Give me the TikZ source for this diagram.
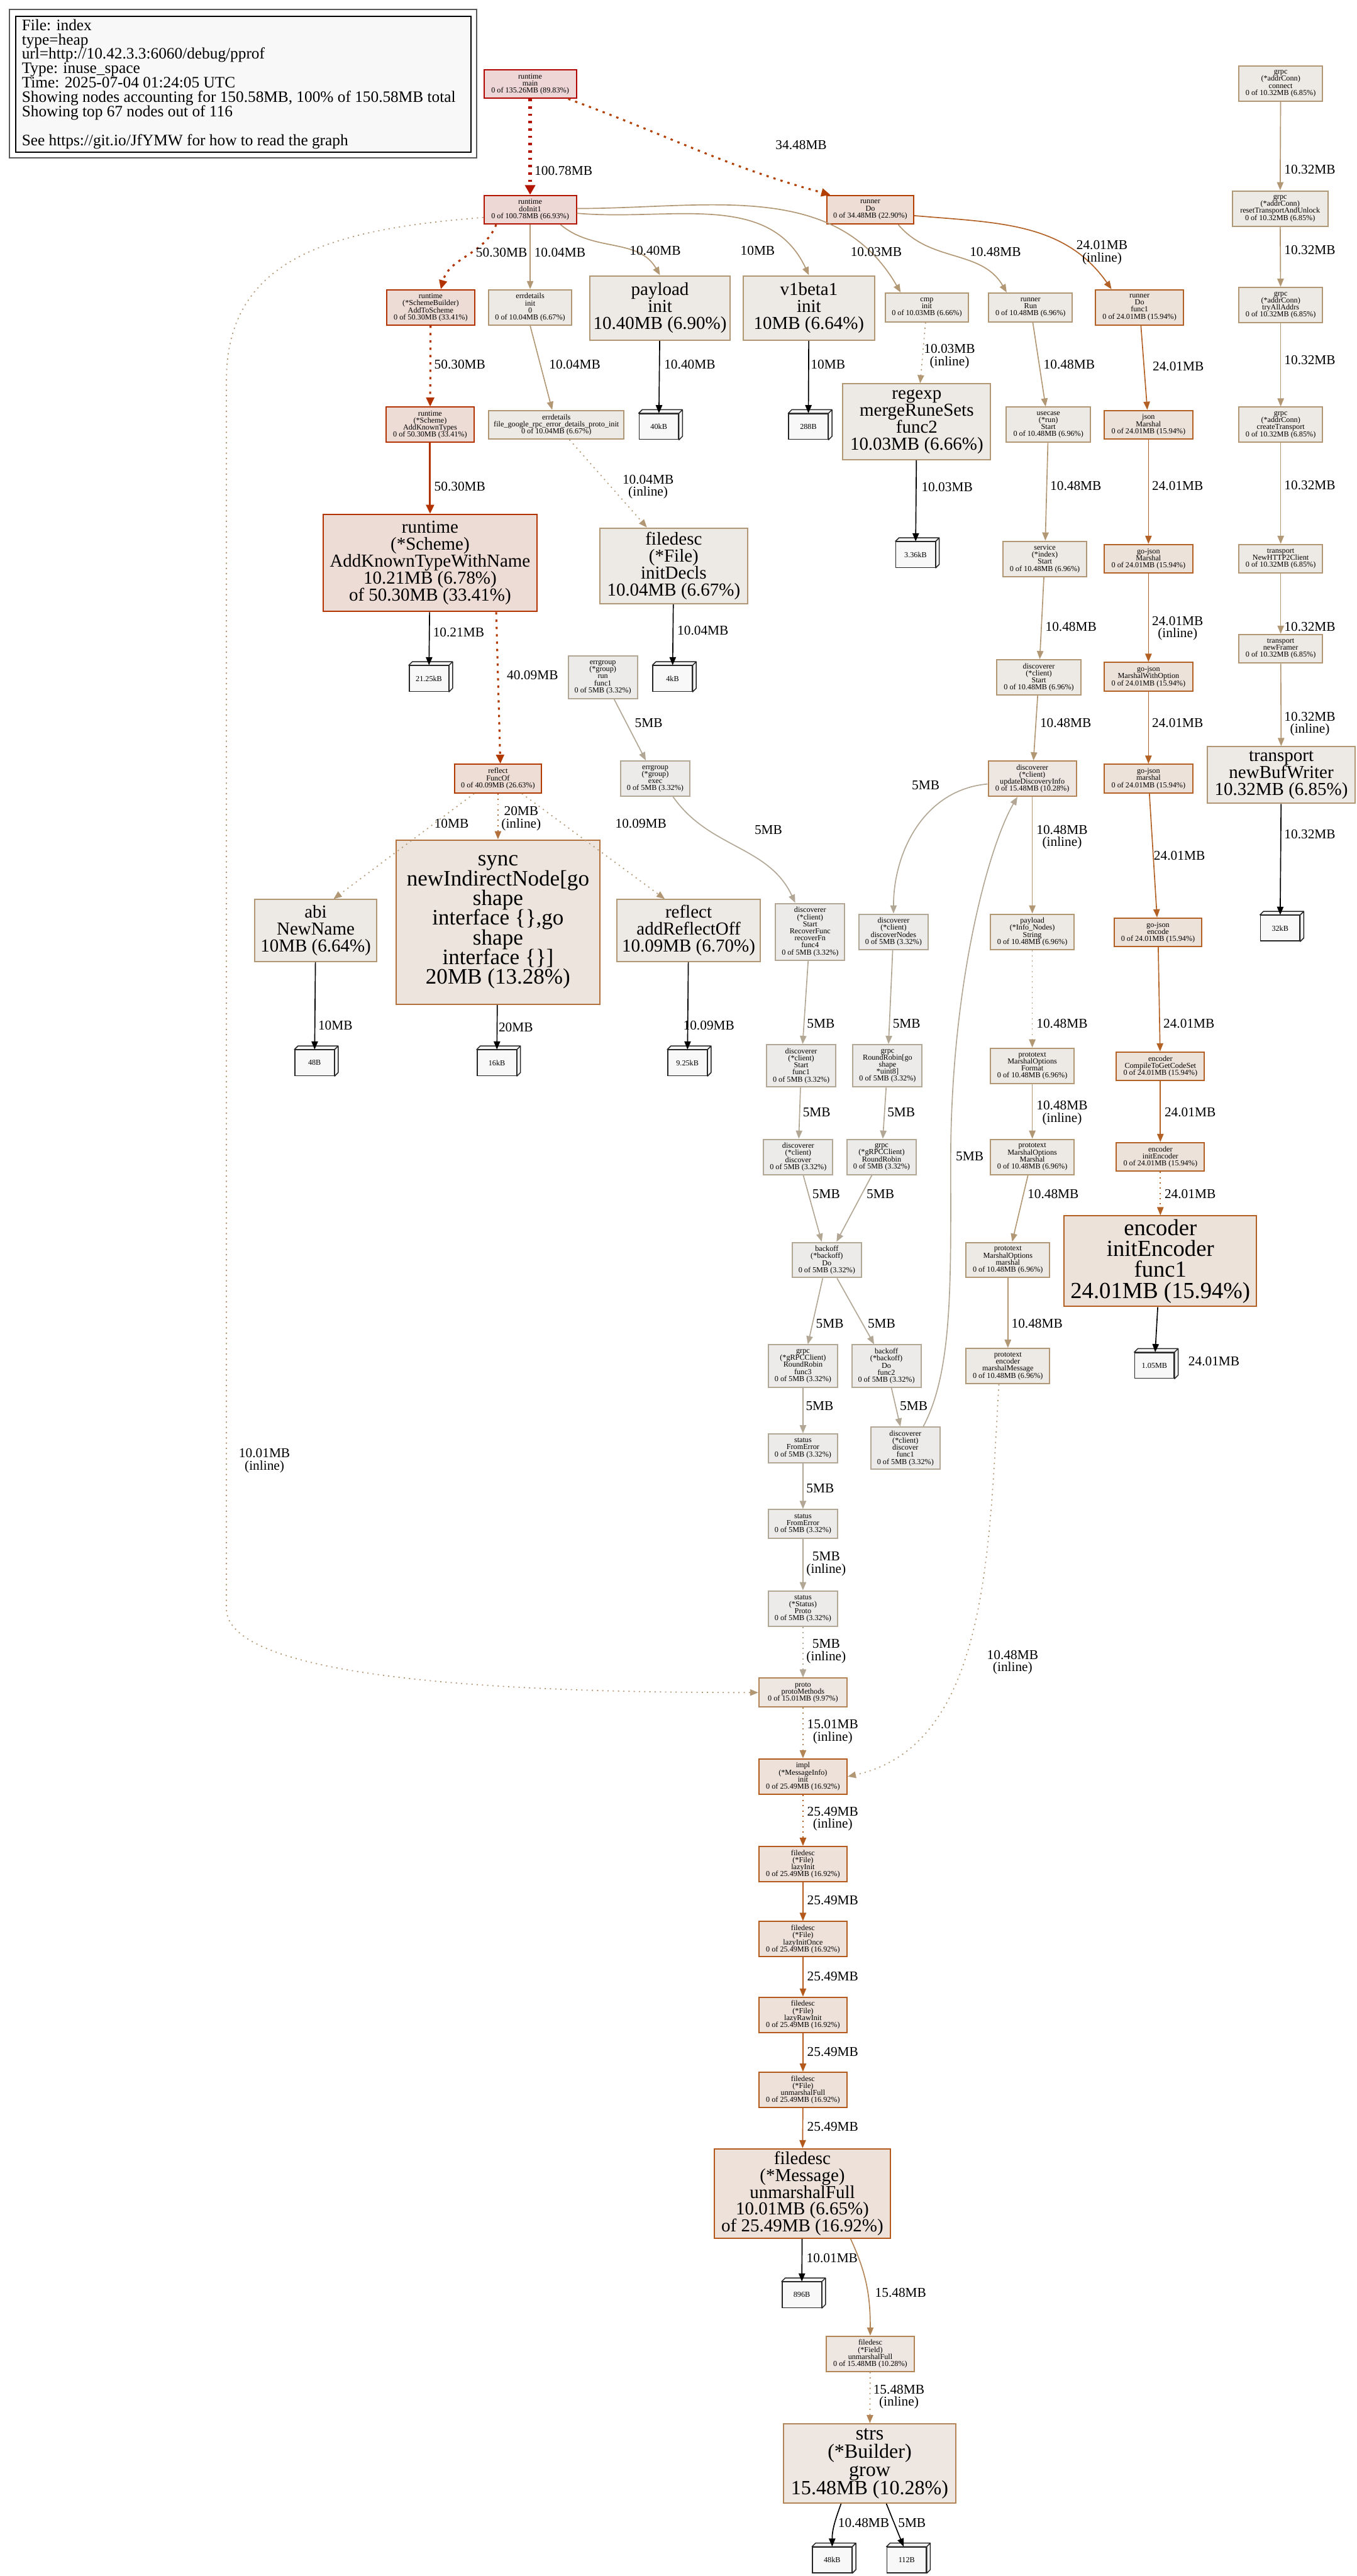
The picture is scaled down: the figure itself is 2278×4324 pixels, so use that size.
\documentclass[tikz,border=0pt]{standalone}
\usepackage{fontspec}
\setmainfont{Liberation Serif}
\usepackage{tikz}
\usetikzlibrary{arrows.meta}
\definecolor{f90}{HTML}{EDD6D5}\definecolor{d90}{HTML}{B20500}
\definecolor{f67}{HTML}{EDD8D5}\definecolor{d67}{HTML}{B21400}
\definecolor{f33}{HTML}{EDDCD5}\definecolor{d33}{HTML}{B23200}
\definecolor{f27}{HTML}{EDDDD5}\definecolor{d27}{HTML}{B23A00}
\definecolor{f23}{HTML}{EDDDD5}\definecolor{d23}{HTML}{B23F00}
\definecolor{f17}{HTML}{EDE1D9}\definecolor{d17}{HTML}{B2591B}
\definecolor{f16}{HTML}{EDE2DA}\definecolor{d16}{HTML}{B26024}
\definecolor{f13}{HTML}{EDE5DD}\definecolor{d13}{HTML}{B2713C}
\definecolor{f10}{HTML}{EDE6E1}\definecolor{d10}{HTML}{B28456}
\definecolor{f7}{HTML}{EDE9E5}\definecolor{d7}{HTML}{B29775}
\definecolor{f3}{HTML}{EDEBE9}\definecolor{d3}{HTML}{B2A794}
\definecolor{leafbg}{HTML}{F8F8F8}
\newcommand\tightlines{\lineskiplimit=-\maxdimen\lineskip=0pt}
\newcommand\smallfn{\fontsize{3.66pt}{3.36pt}\selectfont\tightlines}
\newcommand\labfn{\fontsize{6.41pt}{5.85pt}\selectfont\tightlines}
\newcommand\legfn{\fontsize{7.6pt}{6.86pt}\selectfont\tightlines}
\newcommand\bigfn{\fontsize{8.7pt}{8.1pt}\selectfont\tightlines}
\newcommand\strsfn{\fontsize{9.62pt}{8.7pt}\selectfont\tightlines}
\newcommand\syncfn{\fontsize{10.53pt}{9.4pt}\selectfont\tightlines}
\newcommand\encfn{\fontsize{10.99pt}{10pt}\selectfont\tightlines}
\tikzset{
  fn/.style={draw, rectangle, inner sep=0pt, align=center, line width=0.6pt, font=\smallfn},
  wh/.style 2 args={minimum width=#1cm, minimum height=#2cm},
  big/.style={font=\bigfn},
  n90/.style={fn, fill=f90, draw=d90}, n67/.style={fn, fill=f67, draw=d67},
  n33/.style={fn, fill=f33, draw=d33}, n27/.style={fn, fill=f27, draw=d27},
  n23/.style={fn, fill=f23, draw=d23}, n17/.style={fn, fill=f17, draw=d17},
  n16/.style={fn, fill=f16, draw=d16}, n13/.style={fn, fill=f13, draw=d13},
  n10/.style={fn, fill=f10, draw=d10}, n7/.style={fn, fill=f7, draw=d7},
  n3/.style={fn, fill=f3, draw=d3},
  leaf/.style={draw=black!85, fill=leafbg, line width=0.45pt, inner sep=0pt, minimum width=0.66cm, minimum height=0.43cm, font=\smallfn},
  leafside/.style={draw=black!85, fill=leafbg, line width=0.45pt, line join=round},
  elab/.style={font=\labfn, align=center, inner sep=0pt, text=black},
  ar/.style={-{Triangle[length=3.9pt,width=3.1pt]}, line width=0.5pt},
  arb/.style={-{Triangle[length=4.3pt,width=3.8pt]}, line width=0.92pt},
  arh/.style={-{Triangle[length=4.6pt,width=4.8pt]}, line width=1.8pt},
  resid/.style={dash pattern=on 0.6pt off 1.9pt},
  residb/.style={dash pattern=on 1.1pt off 2.4pt},
  e5/.style={ar, draw=d3}, e10/.style={ar, draw=d7}, e15/.style={ar, draw=d10},
  e20/.style={ar, draw=d13}, e24/.style={ar, draw=d16}, e25/.style={ar, draw=d17},
  e34/.style={arb, draw=d23}, e40/.style={arb, draw=d27}, e50/.style={arb, draw=d33},
  e101/.style={arh, draw=d67},
  toleaf/.style={ar, draw=black}
}
\begin{document}
\begin{tikzpicture}[x=0.01cm, y=-0.01cm]
\useasboundingbox (0,0) rectangle (2278,4324);
% legend
\node[draw=black!65, line width=0.8pt, wh={7.84}{2.49}] (legout) at (408,140.5) {};
\node[draw=black, fill=leafbg, line width=0.6pt, wh={7.63}{2.28}] (legend) at (408.5,141) {};
\node[font=\legfn, align=left, anchor=west, inner sep=0pt] (legtext) at (36,141) {File: index\\type=heap\\url=http://10.42.3.3:6060/debug/pprof\\Type: inuse\_space\\Time: 2025-07-04 01:24:05 UTC\\Showing nodes accounting for 150.58MB, 100\% of 150.58MB total\\Showing top 67 nodes out of 116\\[6.86pt]See https://git.io/JfYMW for how to read the graph};

% top rows
\node[n90, wh={1.55}{0.48}] (main) at (890,141) {runtime\\main\\0 of 135.26MB (89.83\%)};
\node[n67, wh={1.55}{0.48}] (doinit) at (890,352) {runtime\\doInit1\\0 of 100.78MB (66.93\%)};
\node[n23, wh={1.46}{0.48}] (rundo) at (1461,352) {runner\\Do\\0 of 34.48MB (22.90\%)};
\node[n33, wh={1.48}{0.59}] (addtoscheme) at (723,516) {runtime\\(*SchemeBuilder)\\AddToScheme\\0 of 50.30MB (33.41\%)};
\node[n7, wh={1.39}{0.59}] (errinit) at (890,516) {errdetails\\init\\0\\0 of 10.04MB (6.67\%)};
\node[n7, big, wh={2.36}{1.08}] (payload) at (1108,517) {payload\\init\\10.40MB (6.90\%)};
\node[n7, big, wh={2.21}{1.08}] (v1beta) at (1358,517) {v1beta1\\init\\10MB (6.64\%)};
\node[n7, wh={1.40}{0.48}] (cmp) at (1556,516) {cmp\\init\\0 of 10.03MB (6.66\%)};
\node[n7, wh={1.40}{0.48}] (run) at (1730,516) {runner\\Run\\0 of 10.48MB (6.96\%)};
\node[n16, wh={1.47}{0.59}] (dofunc) at (1913,516) {runner\\Do\\func1\\0 of 24.01MB (15.94\%)};
\node[n33, wh={1.47}{0.59}] (addknown) at (722,713) {runtime\\(*Scheme)\\AddKnownTypes\\0 of 50.30MB (33.41\%)};
\node[n7, wh={2.27}{0.48}] (errfile) at (934,713) {errdetails\\file\_google\_rpc\_error\_details\_proto\_init\\0 of 10.04MB (6.67\%)};
\node[n7, big, wh={2.48}{1.27}] (regexp) at (1539,708) {regexp\\mergeRuneSets\\func2\\10.03MB (6.66\%)};
\node[n7, wh={1.41}{0.59}] (usecase) at (1760,713) {usecase\\(*run)\\Start\\0 of 10.48MB (6.96\%)};
\node[n16, wh={1.48}{0.48}] (jsonm) at (1928,713) {json\\Marshal\\0 of 24.01MB (15.94\%)};
\node[n33, big, wh={3.59}{1.63}] (withname) at (722,945) {runtime\\(*Scheme)\\AddKnownTypeWithName\\10.21MB (6.78\%)\\of 50.30MB (33.41\%)};
\node[n7, big, wh={2.48}{1.27}] (initdecls) at (1131,950) {filedesc\\(*File)\\initDecls\\10.04MB (6.67\%)};
\node[n7, wh={1.41}{0.59}] (service) at (1754,938) {service\\(*index)\\Start\\0 of 10.48MB (6.96\%)};
\node[n16, wh={1.48}{0.48}] (gojson) at (1928,938) {go-json\\Marshal\\0 of 24.01MB (15.94\%)};

% grpc column
\node[n7, wh={1.41}{0.59}] (connect) at (2150,140) {grpc\\(*addrConn)\\connect\\0 of 10.32MB (6.85\%)};
\node[n7, wh={1.60}{0.59}] (reset) at (2149,350) {grpc\\(*addrConn)\\resetTransportAndUnlock\\0 of 10.32MB (6.85\%)};
\node[n7, wh={1.41}{0.59}] (tryall) at (2150,512) {grpc\\(*addrConn)\\tryAllAddrs\\0 of 10.32MB (6.85\%)};
\node[n7, wh={1.41}{0.59}] (createtr) at (2150,713) {grpc\\(*addrConn)\\createTransport\\0 of 10.32MB (6.85\%)};
\node[n7, wh={1.41}{0.48}] (http2) at (2150,938) {transport\\NewHTTP2Client\\0 of 10.32MB (6.85\%)};
\node[n7, wh={1.41}{0.48}] (framer) at (2150,1089) {transport\\newFramer\\0 of 10.32MB (6.85\%)};
\node[n7, big, wh={2.48}{0.95}] (bufwriter) at (2151,1301) {transport\\newBufWriter\\10.32MB (6.85\%)};

% middle rows
\node[n3, wh={1.16}{0.71}] (errrun) at (1012,1137) {errgroup\\(*group)\\run\\func1\\0 of 5MB (3.32\%)};
\node[n7, wh={1.41}{0.59}] (dstart) at (1744,1137) {discoverer\\(*client)\\Start\\0 of 10.48MB (6.96\%)};
\node[n16, wh={1.48}{0.48}] (withopt) at (1928,1136) {go-json\\MarshalWithOption\\0 of 24.01MB (15.94\%)};
\node[n27, wh={1.46}{0.48}] (funcof) at (836,1307) {reflect\\FuncOf\\0 of 40.09MB (26.63\%)};
\node[n3, wh={1.16}{0.59}] (exec) at (1100,1307) {errgroup\\(*group)\\exec\\0 of 5MB (3.32\%)};
\node[n10, wh={1.48}{0.59}] (update) at (1733,1307) {discoverer\\(*client)\\updateDiscoveryInfo\\0 of 15.48MB (10.28\%)};
\node[n16, wh={1.48}{0.48}] (gomarshal) at (1928,1307) {go-json\\marshal\\0 of 24.01MB (15.94\%)};
\node[n7, big, wh={2.05}{1.04}] (abi) at (530,1562) {abi\\NewName\\10MB (6.64\%)};
\node[n13, font=\syncfn, wh={3.42}{2.76}] (sync) at (836,1548) {sync\\newIndirectNode[go\\shape\\interface \{\},go\\shape\\interface \{\}]\\20MB (13.28\%)};
\node[n7, big, wh={2.40}{1.04}] (addrefl) at (1156,1562) {reflect\\addReflectOff\\10.09MB (6.70\%)};
\node[n3, wh={1.16}{0.95}] (recover) at (1360,1564) {discoverer\\(*client)\\Start\\RecoverFunc\\recoverFn\\func4\\0 of 5MB (3.32\%)};
\node[n3, wh={1.16}{0.59}] (dnodes) at (1500,1564) {discoverer\\(*client)\\discoverNodes\\0 of 5MB (3.32\%)};
\node[n7, wh={1.40}{0.59}] (pstring) at (1733,1564) {payload\\(*Info\_Nodes)\\String\\0 of 10.48MB (6.96\%)};
\node[n16, wh={1.47}{0.48}] (encode) at (1944,1565) {go-json\\encode\\0 of 24.01MB (15.94\%)};
\node[n3, wh={1.16}{0.71}] (sfunc1) at (1345,1789) {discoverer\\(*client)\\Start\\func1\\0 of 5MB (3.32\%)};
\node[n3, wh={1.16}{0.71}] (rrgo) at (1490,1789) {grpc\\RoundRobin[go\\shape\\{}*uint8]\\0 of 5MB (3.32\%)};
\node[n7, wh={1.40}{0.59}] (format) at (1733,1789) {prototext\\MarshalOptions\\Format\\0 of 10.48MB (6.96\%)};
\node[n16, wh={1.48}{0.48}] (compile) at (1948,1790) {encoder\\CompileToGetCodeSet\\0 of 24.01MB (15.94\%)};
\node[n3, wh={1.16}{0.59}] (discover) at (1340,1942) {discoverer\\(*client)\\discover\\0 of 5MB (3.32\%)};
\node[n3, wh={1.16}{0.59}] (rrclient) at (1480,1942) {grpc\\(*gRPCClient)\\RoundRobin\\0 of 5MB (3.32\%)};
\node[n7, wh={1.40}{0.59}] (pmarshal) at (1733,1942) {prototext\\MarshalOptions\\Marshal\\0 of 10.48MB (6.96\%)};
\node[n16, wh={1.48}{0.48}] (initenc) at (1948,1942) {encoder\\initEncoder\\0 of 24.01MB (15.94\%)};
\node[n16, font=\encfn, wh={3.23}{1.52}] (encfunc) at (1948,2117) {encoder\\initEncoder\\func1\\24.01MB (15.94\%)};
\node[n3, wh={1.16}{0.59}] (backoff) at (1388,2115) {backoff\\(*backoff)\\Do\\0 of 5MB (3.32\%)};
\node[n7, wh={1.40}{0.59}] (pmarsh2) at (1692,2115) {prototext\\MarshalOptions\\marshal\\0 of 10.48MB (6.96\%)};
\node[n3, wh={1.16}{0.71}] (rrfunc3) at (1348,2293) {grpc\\(*gRPCClient)\\RoundRobin\\func3\\0 of 5MB (3.32\%)};
\node[n3, wh={1.16}{0.71}] (bfunc2) at (1488,2293) {backoff\\(*backoff)\\Do\\func2\\0 of 5MB (3.32\%)};
\node[n7, wh={1.40}{0.59}] (marshmsg) at (1692,2293) {prototext\\encoder\\marshalMessage\\0 of 10.48MB (6.96\%)};
\node[n3, wh={1.16}{0.71}] (dfunc1) at (1520,2431) {discoverer\\(*client)\\discover\\func1\\0 of 5MB (3.32\%)};

% bottom chain
\node[n3, wh={1.16}{0.48}] (fromerr1) at (1348,2431) {status\\FromError\\0 of 5MB (3.32\%)};
\node[n3, wh={1.16}{0.48}] (fromerr2) at (1348,2558) {status\\FromError\\0 of 5MB (3.32\%)};
\node[n3, wh={1.16}{0.59}] (sproto) at (1348,2700) {status\\(*Status)\\Proto\\0 of 5MB (3.32\%)};
\node[n10, wh={1.48}{0.48}] (protometh) at (1348,2841) {proto\\protoMethods\\0 of 15.01MB (9.97\%)};
\node[n17, wh={1.48}{0.59}] (impl) at (1348,2982) {impl\\(*MessageInfo)\\init\\0 of 25.49MB (16.92\%)};
\node[n17, wh={1.48}{0.59}] (lazyinit) at (1348,3129) {filedesc\\(*File)\\lazyInit\\0 of 25.49MB (16.92\%)};
\node[n17, wh={1.48}{0.59}] (lazyonce) at (1348,3255) {filedesc\\(*File)\\lazyInitOnce\\0 of 25.49MB (16.92\%)};
\node[n17, wh={1.48}{0.59}] (lazyraw) at (1348,3382) {filedesc\\(*File)\\lazyRawInit\\0 of 25.49MB (16.92\%)};
\node[n17, wh={1.48}{0.59}] (unmfile) at (1348,3508) {filedesc\\(*File)\\unmarshalFull\\0 of 25.49MB (16.92\%)};
\node[n17, big, wh={2.95}{1.50}] (message) at (1347,3682) {filedesc\\(*Message)\\unmarshalFull\\10.01MB (6.65\%)\\of 25.49MB (16.92\%)};
\node[n10, wh={1.48}{0.59}] (field) at (1461,3951) {filedesc\\(*Field)\\unmarshalFull\\0 of 15.48MB (10.28\%)};
\node[n10, font=\strsfn, wh={2.90}{1.33}] (strs) at (1460,4135) {strs\\(*Builder)\\grow\\15.48MB (10.28\%)};

% leaves
\foreach \n/\x/\y/\lbl in {l40/1106/716/40kB, l288/1357/716/288B, l336/1537/931/3.36kB,
    l2125/720/1139/21.25kB, l4k/1129/1139/4kB, l48/528/1784/48B, l16k/834/1784/16kB,
    l925/1154/1784/9.25kB, l32k/2149/1558/32kB, l105/1938/2292/1.05MB,
    l896/1346/3852/896B, l48k/1397/4297/48kB, l112/1522/4297/112B} {
  \node[leaf] (\n) at (\x,\y) {\lbl};
  \draw[leafside] (\n.north west) -- ++(6,-6) -- ([shift={(6,-6)}]\n.north east) -- ([shift={(6,-6)}]\n.south east) -- (\n.south east) -- (\n.north east) -- cycle (\n.north east) -- ++(6,-6);
}

% edges from the top
\draw[e101, residb] (main) -- (doinit) node[elab] at (946,287) {100.78MB};
\draw[e34, residb] ([shift={(64,0)}]main.south) to[out=-20,in=165] ([shift={(7,0)}]rundo.north west) node[elab] at (1345,243) {34.48MB};
\draw[e50, residb] ([shift={(-57,0)}]doinit.south) to[out=-112,in=75] ([shift={(17,0)}]addtoscheme.north) node[elab] at (842,424) {50.30MB};
\draw[e10] (doinit) -- (errinit) node[elab] at (940,424) {10.04MB};
\draw[e10] ([shift={(51,0)}]doinit.south) to[out=-40,in=120] (payload.north) node[elab] at (1100,421) {10.40MB};
\draw[e10] ([shift={(0,6)}]doinit.east) to[out=-5,in=115] (v1beta.north) node[elab] at (1272,421) {10MB};
\draw[e10] ([shift={(0,-2)}]doinit.east) to[out=0,in=120] ([shift={(-44,0)}]cmp.north) node[elab] at (1471,423) {10.03MB};
\draw[e10, resid] ([shift={(0,13)}]doinit.west) .. controls (560,385) and (380,430) .. (380,640) -- (380,2700) .. controls (380,2830) and (950,2841) .. (protometh.west) node[elab] at (444,2452) {10.01MB\\(inline)};
\draw[e50, residb] (addtoscheme) -- (addknown) node[elab] at (772,612) {50.30MB};
\draw[e50] (addknown) -- (withname) node[elab] at (772,817) {50.30MB};
\draw[e40, residb] ([shift={(111,0)}]withname.south) -- ([shift={(4,0)}]funcof.north) node[elab] at (894,1133) {40.09MB};
\draw[toleaf] (withname) -- (l2125) node[elab] at (770,1062) {10.21MB};
\draw[e10] (errinit.south) -- ([shift={(-7,0)}]errfile.north) node[elab] at (965,612) {10.04MB};
\draw[e10, resid] ([shift={(22,0)}]errfile.south) -- ([shift={(-45,0)}]initdecls.north) node[elab] at (1088,817) {10.04MB\\(inline)};
\draw[toleaf] (initdecls) -- (l4k) node[elab] at (1180,1058) {10.04MB};
\draw[toleaf] (payload) -- (l40) node[elab] at (1158,612) {10.40MB};
\draw[toleaf] (v1beta) -- (l288) node[elab] at (1390,612) {10MB};
\draw[e10, resid] (cmp) -- (regexp) node[elab] at (1594,598) {10.03MB\\(inline)};
\draw[toleaf] (regexp) -- (l336) node[elab] at (1590,818) {10.03MB};
\draw[e10] ([shift={(47,0)}]rundo.south) to[out=-50,in=120] ([shift={(-40,0)}]run.north) node[elab] at (1671,423) {10.48MB};
\draw[e24] ([shift={(0,10)}]rundo.east) to[out=-5,in=125] ([shift={(-47,0)}]dofunc.north) node[elab] at (1850,424) {24.01MB\\(inline)};

% runner chains
\draw[e10] (run) -- (usecase) node[elab] at (1795,612) {10.48MB};
\draw[e24] (dofunc) -- (jsonm) node[elab] at (1978,615) {24.01MB};
\draw[e10] (usecase) -- (service) node[elab] at (1806,816) {10.48MB};
\draw[e24] (jsonm) -- (gojson) node[elab] at (1977,816) {24.01MB};
\draw[e10] (service) -- (dstart) node[elab] at (1798,1052) {10.48MB};
\draw[e24] (gojson) -- (withopt) node[elab] at (1977,1055) {24.01MB\\(inline)};
\draw[e10] (dstart) -- (update) node[elab] at (1789,1214) {10.48MB};
\draw[e24] (withopt) -- (gomarshal) node[elab] at (1977,1214) {24.01MB};
\draw[e24] (gomarshal) -- (encode) node[elab] at (1980,1436) {24.01MB};
\draw[e24] (encode) -- (compile) node[elab] at (1996,1718) {24.01MB};
\draw[e24] (compile) -- (initenc) node[elab] at (1998,1867) {24.01MB};
\draw[e24, resid] (initenc) -- (encfunc) node[elab] at (1998,2004) {24.01MB};
\draw[toleaf] (encfunc) -- (l105) node[elab] at (2038,2285) {24.01MB};

% grpc chain
\draw[e10] (connect) -- (reset) node[elab] at (2199,285) {10.32MB};
\draw[e10] (reset) -- (tryall) node[elab] at (2199,420) {10.32MB};
\draw[e10] (tryall) -- (createtr) node[elab] at (2199,604) {10.32MB};
\draw[e10] (createtr) -- (http2) node[elab] at (2199,814) {10.32MB};
\draw[e10] (http2) -- (framer) node[elab] at (2199,1052) {10.32MB};
\draw[e10] (framer) -- (bufwriter) node[elab] at (2199,1215) {10.32MB\\(inline)};
\draw[toleaf] (bufwriter) -- (l32k) node[elab] at (2199,1400) {10.32MB};

% reflect and errgroup
\draw[e5] (errrun) -- (exec) node[elab] at (1089,1214) {5MB};
\draw[e5] ([shift={(30,0)}]exec.south) to[out=-55,in=115] ([shift={(-25,0)}]recover.north) node[elab] at (1290,1393) {5MB};
\draw[e10, resid] ([shift={(-40,0)}]funcof.south) -- ([shift={(30,0)}]abi.north) node[elab] at (758,1382) {10MB};
\draw[e20, resid] (funcof) -- (sync) node[elab] at (875,1374) {20MB\\(inline)};
\draw[e10, resid] ([shift={(40,0)}]funcof.south) -- ([shift={(-40,0)}]addrefl.north) node[elab] at (1076,1382) {10.09MB};
\draw[toleaf] (abi) -- (l48) node[elab] at (563,1721) {10MB};
\draw[toleaf] (sync) -- (l16k) node[elab] at (866,1724) {20MB};
\draw[toleaf] (addrefl) -- (l925) node[elab] at (1190,1721) {10.09MB};

% discoverer
\draw[e5] ([shift={(0,9)}]update.west) to[out=185,in=90] (dnodes.north) node[elab] at (1554,1318) {5MB};
\draw[e10] (update) -- (pstring) node[elab] at (1783,1405) {10.48MB\\(inline)};
\draw[e5] (recover) -- (sfunc1) node[elab] at (1378,1718) {5MB};
\draw[e5] (dnodes) -- (rrgo) node[elab] at (1522,1718) {5MB};
\draw[e10, resid] (pstring) -- (format) node[elab] at (1783,1718) {10.48MB};
\draw[e5] (sfunc1) -- (discover) node[elab] at (1371,1867) {5MB};
\draw[e5] (rrgo) -- (rrclient) node[elab] at (1513,1867) {5MB};
\draw[e10] (format) -- (pmarshal) node[elab] at (1783,1868) {10.48MB\\(inline)};
\draw[e5] (discover) -- (backoff) node[elab] at (1387,2004) {5MB};
\draw[e5] (rrclient) -- (backoff) node[elab] at (1478,2004) {5MB};
\draw[e10] (pmarshal) -- (pmarsh2) node[elab] at (1768,2004) {10.48MB};
\draw[e5] (backoff) -- (rrfunc3) node[elab] at (1393,2222) {5MB};
\draw[e5] (backoff) -- (bfunc2) node[elab] at (1480,2222) {5MB};
\draw[e10] (pmarsh2) -- (marshmsg) node[elab] at (1741,2222) {10.48MB};
\draw[e5] (rrfunc3) -- (fromerr1) node[elab] at (1376,2360) {5MB};
\draw[e5] (bfunc2) -- (dfunc1) node[elab] at (1534,2360) {5MB};
\draw[e5] ([shift={(30,0)}]dfunc1.north) .. controls (1600,2300) and (1596,2150) .. (1596,1950) .. controls (1596,1650) and (1660,1420) .. ([shift={(-25,0)}]update.south) node[elab] at (1628,1941) {5MB};

% proto chain
\draw[e5] (fromerr1) -- (fromerr2) node[elab] at (1377,2498) {5MB};
\draw[e5] (fromerr2) -- (sproto) node[elab] at (1387,2625) {5MB\\(inline)};
\draw[e5, resid] (sproto) -- (protometh) node[elab] at (1387,2772) {5MB\\(inline)};
\draw[e15, resid] (protometh) -- (impl) node[elab] at (1398,2907) {15.01MB\\(inline)};
\draw[e10, resid] ([shift={(-15,0)}]marshmsg.south) .. controls (1660,2600) and (1660,2930) .. (impl.east) node[elab] at (1700,2790) {10.48MB\\(inline)};
\draw[e25, resid] (impl) -- (lazyinit) node[elab] at (1398,3053) {25.49MB\\(inline)};
\draw[e25] (lazyinit) -- (lazyonce) node[elab] at (1398,3190) {25.49MB};
\draw[e25] (lazyonce) -- (lazyraw) node[elab] at (1398,3317) {25.49MB};
\draw[e25] (lazyraw) -- (unmfile) node[elab] at (1398,3444) {25.49MB};
\draw[e25] (unmfile) -- (message) node[elab] at (1398,3570) {25.49MB};
\draw[toleaf] (message) -- (l896) node[elab] at (1397,3790) {10.01MB};
\draw[e15] ([shift={(81,0)}]message.south) to[out=-65,in=90] (field.north) node[elab] at (1512,3848) {15.48MB};
\draw[e15, resid] (field) -- (strs) node[elab] at (1509,4023) {15.48MB\\(inline)};
\draw[toleaf] ([shift={(-48,0)}]strs.south) to[out=-110,in=90] (l48k.north) node[elab] at (1450,4235) {10.48MB};
\draw[toleaf] ([shift={(28,0)}]strs.south) -- ([shift={(-5,0)}]l112.north) node[elab] at (1531,4235) {5MB};
\end{tikzpicture}
\end{document}
